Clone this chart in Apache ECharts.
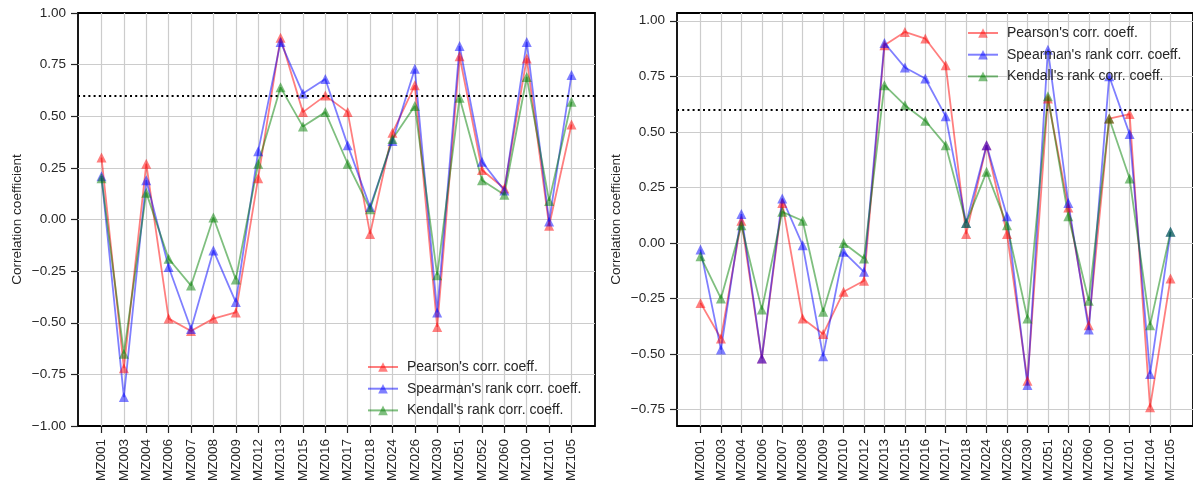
<!DOCTYPE html>
<html>
<head>
<meta charset="utf-8">
<script src="https://cdn.jsdelivr.net/npm/echarts@6/dist/echarts.min.js"></script>
<style>
  html, body { margin: 0; padding: 0; background: #fff; }
  #chart { width: 1193px; height: 486px; }
</style>
</head>
<body>
<div id="chart"></div>
<script>
// correlation coefficients per station, two panels

const catsL = ['MZ001', 'MZ003', 'MZ004', 'MZ006', 'MZ007', 'MZ008', 'MZ009', 'MZ012', 'MZ013', 'MZ015', 'MZ016',
    'MZ017', 'MZ018', 'MZ024', 'MZ026', 'MZ030', 'MZ051', 'MZ052', 'MZ060', 'MZ100', 'MZ101', 'MZ105'];
const pearsonL = [0.30, -0.72, 0.27, -0.48, -0.54, -0.48, -0.45, 0.20, 0.88, 0.52, 0.60, 0.52, -0.07, 0.42, 0.65, -0.52, 0.79, 0.24, 0.15, 0.78, -0.03, 0.46];
const spearmanL = [0.21, -0.86, 0.19, -0.23, -0.53, -0.15, -0.40, 0.33, 0.86, 0.61, 0.68, 0.36, 0.06, 0.38, 0.73, -0.45, 0.84, 0.28, 0.14, 0.86, -0.01, 0.70];
const kendallL = [0.20, -0.65, 0.13, -0.19, -0.32, 0.01, -0.29, 0.27, 0.64, 0.45, 0.52, 0.27, 0.05, 0.39, 0.55, -0.27, 0.59, 0.19, 0.12, 0.69, 0.09, 0.57];

const catsR = ['MZ001', 'MZ003', 'MZ004', 'MZ006', 'MZ007', 'MZ008', 'MZ009', 'MZ010', 'MZ012', 'MZ013', 'MZ015', 'MZ016',
    'MZ017', 'MZ018', 'MZ024', 'MZ026', 'MZ030', 'MZ051', 'MZ052', 'MZ060', 'MZ100', 'MZ101', 'MZ104', 'MZ105'];
const pearsonR = [-0.27, -0.43, 0.10, -0.52, 0.18, -0.34, -0.41, -0.22, -0.17, 0.89, 0.95, 0.92, 0.80, 0.04, 0.44, 0.04, -0.62, 0.65, 0.16, -0.37, 0.56, 0.58, -0.74, -0.16];
const spearmanR = [-0.03, -0.48, 0.13, -0.52, 0.20, -0.01, -0.51, -0.04, -0.13, 0.90, 0.79, 0.74, 0.57, 0.09, 0.44, 0.12, -0.64, 0.87, 0.18, -0.39, 0.75, 0.49, -0.59, 0.05];
const kendallR = [-0.06, -0.25, 0.08, -0.30, 0.14, 0.10, -0.31, 0.00, -0.07, 0.71, 0.62, 0.55, 0.44, 0.09, 0.32, 0.08, -0.34, 0.66, 0.12, -0.26, 0.56, 0.29, -0.37, 0.05];

const seriesNames = ["Pearson's corr. coeff.", "Spearman's rank corr. coeff.", "Kendall's rank corr. coeff."];
const seriesColors = ['#ff0000', '#0000ff', '#008000'];
const threshold = 0.6;

const TXT = '#262626';
const FS = 13.5;
const GRIDC = '#cccccc';

const fmt = v => (v < 0 ? '\u2212' + Math.abs(v).toFixed(2) : v.toFixed(2));

const grid = [], xAxis = [], yAxis = [], series = [], legend = [];

function panel(p, cats, values, leg) {
    const base = grid.length;
    const span = p.yMax - p.yMin;
    const ppu = p.height / span;
    // frame
    grid.push({left: p.left, top: p.top, width: p.width, height: p.height, show: true,
        borderColor: '#000', borderWidth: 1.8, backgroundColor: 'transparent'});
    xAxis.push({type: 'value', gridIndex: base, show: false, min: 0, max: 1});
    yAxis.push({type: 'value', gridIndex: base, min: p.yMin, max: p.yMax,
        name: 'Correlation coefficient', nameLocation: 'middle', nameGap: 54,
        nameTextStyle: {color: TXT, fontSize: FS, fontFamily: 'Liberation Sans'},
        axisLine: {show: false}, axisTick: {show: false}, axisLabel: {show: false}, splitLine: {show: false}});
    // y ticks + horizontal grid lines
    grid.push({left: p.left, width: p.width, top: p.top + (p.yMax - p.tickMax) * ppu,
        height: (p.tickMax - p.tickMin) * ppu});
    xAxis.push({type: 'value', gridIndex: base + 1, show: false, min: 0, max: 1});
    yAxis.push({type: 'value', gridIndex: base + 1, min: p.tickMin, max: p.tickMax, interval: 0.25,
        axisLine: {show: false, onZero: false},
        axisTick: {show: true, length: 7, lineStyle: {color: TXT, width: 1.2}},
        axisLabel: {color: TXT, fontSize: FS, fontFamily: 'Liberation Sans', margin: 12, formatter: fmt},
        splitLine: {show: true, showMinLine: p.tickMin !== p.yMin, showMaxLine: p.tickMax !== p.yMax,
            lineStyle: {color: GRIDC, width: 1.2}}});
    series.push({type: 'line', xAxisIndex: base + 1, yAxisIndex: base + 1, data: [], silent: true,
        markLine: {silent: true, symbol: 'none', label: {show: false},
            lineStyle: {color: '#000', width: 2, type: [2, 3.2]},
            data: [{yAxis: threshold}]}});
    // data area, 5% margin each side like matplotlib
    const pad = p.dataWidth / 22;
    grid.push({left: p.left + pad, width: p.dataWidth - 2 * pad, top: p.top, height: p.height});
    xAxis.push({type: 'category', gridIndex: base + 2, data: cats, boundaryGap: false,
        axisLine: {show: false, onZero: false},
        axisTick: {show: true, length: 7, lineStyle: {color: TXT, width: 1.2}},
        axisLabel: {color: TXT, fontSize: FS, fontFamily: 'Liberation Sans', rotate: 90, margin: 13, interval: 0},
        splitLine: {show: true, lineStyle: {color: GRIDC, width: 1.2}}});
    yAxis.push({type: 'value', gridIndex: base + 2, min: p.yMin, max: p.yMax, show: false, splitLine: {show: false}});
    values.forEach((vals, i) => {
        series.push({
            name: seriesNames[i], type: 'line', xAxisIndex: base + 2, yAxisIndex: base + 2,
            data: vals, symbol: 'triangle', symbolSize: 10,
            lineStyle: {color: seriesColors[i], width: 1.8, opacity: 0.5},
            itemStyle: {color: seriesColors[i], opacity: 0.5},
            emphasis: {disabled: true}, animation: false
        });
    });
    legend.push(Object.assign({
        orient: 'vertical', data: seriesNames, itemWidth: 30, itemHeight: 12, itemGap: 7.7, padding: 0,
        textStyle: {color: TXT, fontSize: 14, fontFamily: 'Liberation Sans', padding: [0, 0, 0, 4]},
        selectedMode: false
    }, leg));
}

panel({left: 78, top: 13, width: 517, dataWidth: 517, height: 413, yMin: -1, yMax: 1, tickMin: -1, tickMax: 1},
    catsL, [pearsonL, spearmanL, kendallL], {left: 367, top: 360});
// right panel: its right spine sits just past the canvas edge
panel({left: 677, top: 13, width: 520, dataWidth: 517, height: 413, yMin: -0.824, yMax: 1.035, tickMin: -0.75, tickMax: 1},
    catsR, [pearsonR, spearmanR, kendallR], {left: 967, top: 26});

const chart = echarts.init(document.getElementById('chart'), null, {renderer: 'canvas'});
chart.setOption({
    backgroundColor: '#ffffff',
    animation: false,
    grid, xAxis, yAxis, series, legend
});
</script>
</body>
</html>
